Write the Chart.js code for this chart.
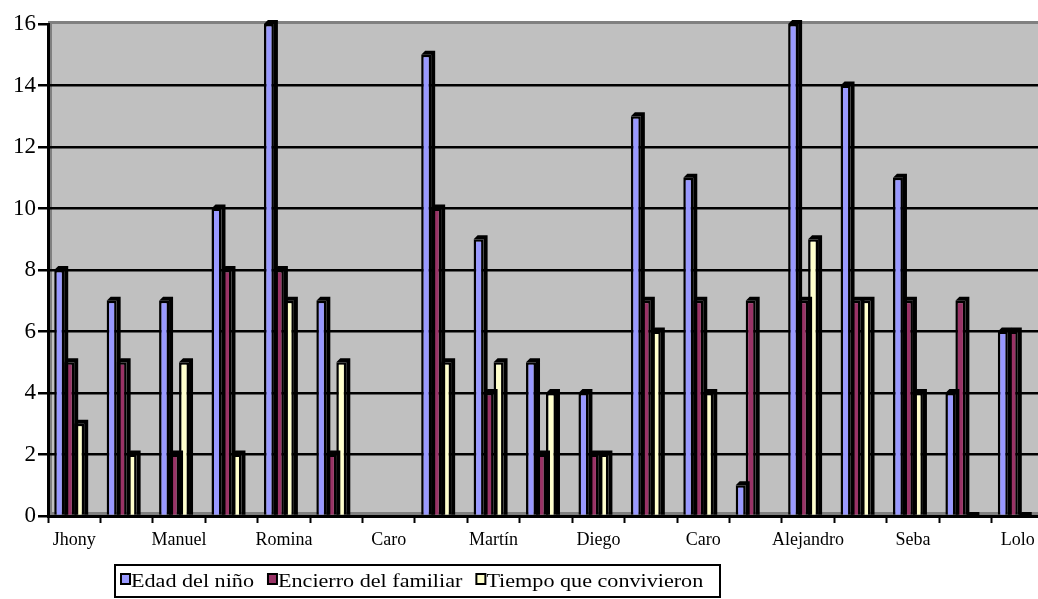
<!DOCTYPE html>
<html>
<head>
<meta charset="utf-8">
<script src="https://cdn.jsdelivr.net/npm/chart.js@4/dist/chart.umd.min.js"></script>
<style>
html, body { margin: 0; padding: 0; background: #ffffff; overflow: hidden; }
#wrap { position: relative; width: 1046px; height: 599px; }
canvas { display: block; }
</style>
</head>
<body>
<div id="wrap"><canvas id="c" width="1046" height="599"></canvas></div>
<script>
// ---- data ----
const categories = ['Jhony', '', 'Manuel', '', 'Romina', '', 'Caro', '', 'Martín', '', 'Diego', '', 'Caro', '', 'Alejandro', '', 'Seba', '', 'Lolo'];
const edadNino = [8, 7, 7, 10, 16, 7, null, 15, 9, 5, 4, 13, 11, 1, 16, 14, 11, 4, 6];
const encierroFamiliar = [5, 5, 2, 8, 8, 2, null, 10, 4, 2, 2, 7, 7, 7, 7, 7, 7, 7, 6];
const tiempoConvivieron = [3, 2, 5, 2, 7, 5, null, 5, 5, 4, 2, 6, 4, null, 9, 7, 4, 0, 0];
const emptySeries = [null, null, null, null, null, null, null, null, null, null, null, null, null, null, null, null, null, null, null];
const seriesNames = ['Edad del niño', 'Encierro del familiar', 'Tiempo que convivieron'];
const seriesColors = ['#9999FF', '#993366', '#FFFFCC'];
const yMin = 0, yMax = 16, yStep = 2;

const SERIF = '"Liberation Serif", "Times New Roman", serif';
const DEPTH = 4;

// plot area background and border
const plotBg = {
  id: 'plotBg',
  beforeDraw(chart) {
    const { ctx, chartArea: a } = chart;
    ctx.save();
    ctx.fillStyle = '#C0C0C0';
    ctx.fillRect(a.left, a.top - 2, a.right - a.left, a.bottom - a.top + 2);
    ctx.strokeStyle = '#808080';
    ctx.lineWidth = 3;
    ctx.beginPath();
    ctx.moveTo(a.left, a.top - 1.5);
    ctx.lineTo(a.right, a.top - 1.5);
    ctx.moveTo(a.left + 2.5, a.top);
    ctx.lineTo(a.left + 2.5, a.bottom);
    ctx.moveTo(a.left, a.bottom - 2.5);
    ctx.lineTo(a.right, a.bottom - 2.5);
    ctx.stroke();
    ctx.restore();
  }
};

// pseudo-3D depth (dark side and top) for every bar, from the bar elements
const barDepth = {
  id: 'barDepth',
  beforeDatasetDraw(chart, args) {
    const meta = args.meta;
    const ds = chart.data.datasets[args.index];
    if (!ds.depth) return;
    const ctx = chart.ctx;
    ctx.save();
    ctx.fillStyle = '#000000';
    meta.data.forEach((el, i) => {
      if (ds.data[i] === null || ds.data[i] === undefined) return;
      const p = el.getProps(['x', 'y', 'base', 'width'], true);
      if (!isFinite(p.y) || !isFinite(p.base)) return;
      const l = p.x - p.width / 2, r = p.x + p.width / 2;
      const top = Math.min(p.y, p.base), base = Math.max(p.y, p.base);
      ctx.beginPath();
      ctx.moveTo(l, top);
      ctx.lineTo(l + DEPTH, top - DEPTH);
      ctx.lineTo(r + DEPTH, top - DEPTH);
      ctx.lineTo(r + DEPTH, base);
      ctx.lineTo(r, base);
      ctx.lineTo(r, top);
      ctx.closePath();
      ctx.fill();
    });
    ctx.restore();
  }
};

// boxed legend, drawn from the dataset labels and colours
const boxLegend = {
  id: 'boxLegend',
  afterDraw(chart) {
    const ctx = chart.ctx;
    const box = { x: 114, y: 564, w: 607, h: 34 };
    ctx.save();
    ctx.fillStyle = '#ffffff';
    ctx.fillRect(box.x, box.y, box.w, box.h);
    ctx.strokeStyle = '#000000';
    ctx.lineWidth = 2;
    ctx.strokeRect(box.x + 1, box.y + 1, box.w - 2, box.h - 2);
    ctx.font = '18px ' + SERIF;
    ctx.textBaseline = 'alphabetic';
    ctx.textAlign = 'left';
    const stretch = 1.23;
    let x = 121;
    chart.data.datasets.forEach(ds => {
      if (!ds.inLegend) return;
      ctx.fillStyle = ds.backgroundColor;
      ctx.fillRect(x, 574, 9, 10);
      ctx.strokeStyle = '#000';
      ctx.lineWidth = 2;
      ctx.strokeRect(x, 574, 9, 10);
      const tx = x + 10;
      const w = ctx.measureText(ds.label).width * stretch;
      ctx.save();
      ctx.translate(tx, 586.5);
      ctx.scale(stretch, 1);
      ctx.fillStyle = '#000';
      ctx.fillText(ds.label, 0, 0);
      ctx.restore();
      x = tx + w + 14;
    });
    ctx.restore();
  }
};

const datasets = [
  { label: seriesNames[0], data: edadNino, backgroundColor: seriesColors[0], depth: true, inLegend: true },
  { label: seriesNames[1], data: encierroFamiliar, backgroundColor: seriesColors[1], depth: true, inLegend: true },
  { label: seriesNames[2], data: tiempoConvivieron, backgroundColor: seriesColors[2], depth: true, inLegend: true },
  { label: '', data: emptySeries, backgroundColor: 'rgba(0,0,0,0)', depth: false, inLegend: false }
].map(d => Object.assign({
  borderColor: '#000000',
  borderWidth: 2.5,
  borderSkipped: 'start',
  barPercentage: 1.0,
  categoryPercentage: 0.762
}, d));

new Chart(document.getElementById('c'), {
  type: 'bar',
  data: { labels: categories, datasets },
  plugins: [plotBg, barDepth, boxLegend],
  options: {
    responsive: false,
    animation: false,
    devicePixelRatio: 1,
    layout: { padding: { top: 24, right: 2, left: 0, bottom: 0 } },
    plugins: { legend: { display: false }, tooltip: { enabled: false }, title: { display: false } },
    scales: {
      x: {
        offset: true,
        afterFit(s) { s.height = 83; },
        grid: { offset: true, drawOnChartArea: false, drawTicks: true, tickLength: 7, tickColor: '#000', tickWidth: 2, color: '#000' },
        border: { display: true, color: '#000', width: 3 },
        ticks: { autoSkip: false, maxRotation: 0, minRotation: 0, padding: 6, color: '#000', font: { family: SERIF, size: 18 } }
      },
      y: {
        min: yMin, max: yMax,
        afterFit(s) { s.width = 48; },
        grid: {
          color: c => (c.tick && c.tick.value === yMax) ? 'rgba(0,0,0,0)' : '#000000',
          lineWidth: 2.5,
          tickColor: '#000', tickWidth: 2.5, tickLength: 10, drawTicks: true
        },
        border: { display: true, color: '#000', width: 3 },
        ticks: { stepSize: yStep, padding: 2, color: '#000', font: { family: SERIF, size: 23 } }
      }
    }
  }
});
</script>
</body>
</html>
